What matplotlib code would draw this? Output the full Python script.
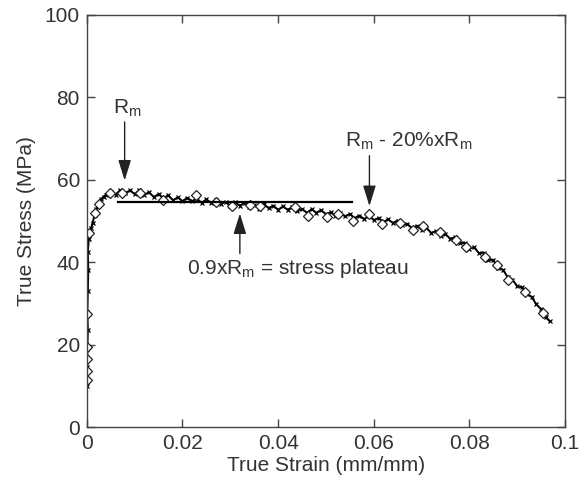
import matplotlib
matplotlib.use("Agg")
import matplotlib.pyplot as plt

plt.rcParams['font.family'] = ['Liberation Sans', 'DejaVu Sans']
plt.rcParams['mathtext.fontset'] = 'custom'
plt.rcParams['mathtext.rm'] = 'Liberation Sans'
plt.rcParams['mathtext.it'] = 'Liberation Sans'

# Experimental curve (true strain, true stress)
exp_strain = [0.0, 0.0001, 0.0001, 0.0002, 0.0001, 0.0002, 0.0003, 0.0002, 0.0004, 0.0006,
              0.0009, 0.0012, 0.0016, 0.0020, 0.0025, 0.0030, 0.0035, 0.0040, 0.0045,
              0.005, 0.006, 0.007, 0.008, 0.009, 0.010, 0.011, 0.012, 0.013, 0.014,
              0.015, 0.016, 0.017, 0.018, 0.019, 0.020, 0.021, 0.022, 0.023, 0.024,
              0.025, 0.026, 0.027, 0.028, 0.029, 0.030, 0.031, 0.032, 0.033, 0.034,
              0.035, 0.036, 0.037, 0.038, 0.039, 0.040, 0.041, 0.042, 0.043, 0.044,
              0.045, 0.046, 0.047, 0.048, 0.049, 0.050, 0.051, 0.052, 0.053, 0.054,
              0.055, 0.056, 0.057, 0.058, 0.059, 0.060, 0.061, 0.062, 0.063, 0.064,
              0.065, 0.066, 0.067, 0.068, 0.069, 0.070, 0.071, 0.072, 0.073, 0.074,
              0.075, 0.076, 0.077, 0.078, 0.079, 0.080, 0.081, 0.082, 0.083, 0.084,
              0.085, 0.086, 0.087, 0.088, 0.089, 0.090, 0.091, 0.092, 0.093, 0.094,
              0.095, 0.096, 0.0968]
exp_stress = [10.0, 14.5, 19.0, 23.5, 28.0, 33.0, 38.0, 42.5, 45.5, 47.0,
              48.3, 49.6, 51.4, 53.0, 54.3, 55.3, 55.9, 56.3, 56.6,
              56.9, 56.4, 57.5, 56.7, 57.4, 56.5, 57.5, 56.4, 56.9, 55.8,
              56.5, 55.5, 56.2, 55.0, 55.7, 54.8, 55.6, 54.8, 55.4, 54.4,
              55.2, 54.4, 55.1, 54.1, 54.6, 53.7, 54.5, 53.7, 54.4, 53.4,
              53.9, 53.0, 54.1, 53.1, 53.7, 52.7, 53.5, 52.7, 53.4, 52.3,
              52.9, 52.0, 52.8, 52.0, 52.6, 51.6, 52.1, 51.2, 51.9, 51.1,
              51.7, 50.7, 51.3, 50.4, 51.3, 50.2, 50.7, 49.7, 50.4, 49.5,
              50.1, 48.9, 49.3, 48.2, 48.8, 47.9, 48.4, 47.1, 47.5, 46.3,
              46.8, 45.7, 46.0, 44.6, 44.7, 43.3, 43.6, 42.2, 42.3, 40.6,
              40.5, 38.6, 38.2, 36.4, 35.8, 34.2, 33.9, 32.3, 31.6, 29.8,
              28.6, 26.6, 25.7]

# Model / second data set (diamonds)
dia_strain = [0.0000, 0.0000, 0.0001, 0.0000, 0.0000, 0.0005, 0.0017, 0.0026, 0.0048,
              0.0073, 0.0111, 0.0160, 0.0229, 0.0271, 0.0303, 0.0341, 0.0362, 0.0435,
              0.0463, 0.0503, 0.0526, 0.0557, 0.0591, 0.0617, 0.0655, 0.0683, 0.0704,
              0.0738, 0.0773, 0.0794, 0.0833, 0.0857, 0.0881, 0.0916, 0.0955]
dia_stress = [11.4, 13.7, 16.5, 19.4, 27.5, 47.0, 51.8, 54.2, 56.8,
              56.8, 56.8, 55.0, 56.4, 54.6, 53.6, 53.8, 53.6, 53.4,
              51.3, 51.0, 51.7, 49.9, 51.6, 49.3, 49.4, 47.9, 48.7,
              47.2, 45.3, 43.7, 41.3, 39.3, 35.6, 32.8, 27.6]

plateau_strain = [0.0066, 0.0554]
plateau_stress = [54.6, 54.6]

x_ticks = [0, 0.02, 0.04, 0.06, 0.08, 0.1]
x_ticklabels = ['0', '0.02', '0.04', '0.06', '0.08', '0.1']
y_ticks = [0, 20, 40, 60, 80, 100]

txt_color = '#333333'
fs = 15

fig = plt.figure(figsize=(5.87, 4.80), dpi=100)
ax = fig.add_axes([0.148, 0.110, 0.8145, 0.8595])

ax.plot(exp_strain, exp_stress, color='black', lw=1.4, marker='x', ms=3.5, mew=0.9)
ax.plot(dia_strain, dia_stress, linestyle='none', marker='D', ms=5.5,
        mfc='white', mec='#222222', mew=0.9)
ax.plot(plateau_strain, plateau_stress, color='black', lw=1.6)

arrow = dict(arrowstyle='-|>,head_length=0.9,head_width=0.28', lw=1.0,
             color='#222222', mutation_scale=14, shrinkA=0, shrinkB=0)

ax.annotate('', xy=(0.0079, 59.8), xytext=(0.0079, 74.0), arrowprops=arrow)
ax.text(0.0085, 77.3, r'R$_\mathrm{m}$', ha='center', va='center', fontsize=fs, color=txt_color)

ax.annotate('', xy=(0.0591, 53.6), xytext=(0.0591, 65.8), arrowprops=arrow)
ax.text(0.0673, 69.2, r'R$_\mathrm{m}$ - 20%xR$_\mathrm{m}$', ha='center', va='center',
        fontsize=fs, color=txt_color)

ax.annotate('', xy=(0.0320, 51.8), xytext=(0.0320, 42.1), arrowprops=arrow)
ax.text(0.0442, 38.5, r'0.9xR$_\mathrm{m}$ = stress plateau', ha='center', va='center',
        fontsize=fs, color=txt_color)

ax.set_xlim(0, 0.1)
ax.set_ylim(0, 100)
ax.set_xticks(x_ticks)
ax.set_xticklabels(x_ticklabels)
ax.set_yticks(y_ticks)
ax.tick_params(direction='in', length=6, width=1, top=True, right=True,
               labelsize=fs, labelcolor=txt_color, color='#444444', pad=5)
for s in ax.spines.values():
    s.set_color('#444444')
    s.set_linewidth(1.0)

ax.set_xlabel('True Strain (mm/mm)', fontsize=fs, color=txt_color, labelpad=2)
ax.set_ylabel('True Stress (MPa)', fontsize=fs, color=txt_color, labelpad=6)

fig.savefig('out.png', dpi=100)
